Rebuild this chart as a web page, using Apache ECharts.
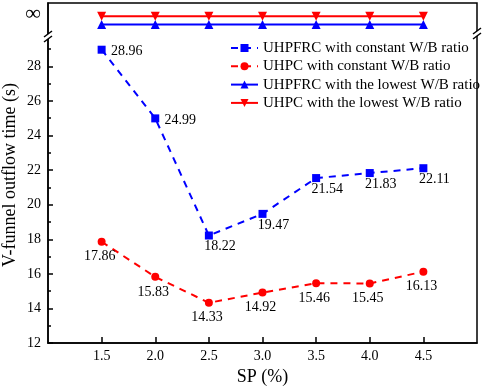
<!DOCTYPE html>
<html>
<head>
<meta charset="utf-8">
<script src="https://cdn.jsdelivr.net/npm/echarts@6/dist/echarts.min.js"></script>
<style>
  html, body { margin: 0; padding: 0; background: #fff; }
  #chart { width: 484px; height: 391px; }
</style>
</head>
<body>
<div id="chart"></div>
<script>
// SP dosage (%)
const spValues = [1.5, 2.0, 2.5, 3.0, 3.5, 4.0, 4.5];
// V-funnel outflow time (s)
const uhpfrcConstant = [28.96, 24.99, 18.22, 19.47, 21.54, 21.83, 22.11];
const uhpcConstant = [17.86, 15.83, 14.33, 14.92, 15.46, 15.45, 16.13];
// no flow (infinite time) -> drawn in the band above the axis break
const uhpfrcLowest = [30.41, 30.41, 30.41, 30.41, 30.41, 30.41, 30.41];
const uhpcLowest = [30.89, 30.89, 30.89, 30.89, 30.89, 30.89, 30.89];

const yTicks = [12, 14, 16, 18, 20, 22, 24, 26, 28];
const yMinorTicks = [13, 15, 17, 19, 21, 23, 25, 27, 29];
const infValue = 31;
const xTicks = [1.5, 2.0, 2.5, 3.0, 3.5, 4.0, 4.5];

const font = "Liberation Serif";

function pairs(ys) {
  return spValues.map((x, i) => [x, ys[i]]);
}

let myChart = echarts.init(document.getElementById("chart"));
myChart.setOption({
  animation: false,
  textStyle: { fontFamily: font },
  grid: {
    left: 48,
    right: 7,
    top: 3,
    bottom: 42,
    show: true,
    borderColor: "#000",
    borderWidth: 1.5,
  },
  legend: {
    orient: "vertical",
    left: 230,
    top: 40,
    padding: 0,
    itemWidth: 27,
    itemHeight: 10,
    itemGap: 2.3,
    textStyle: { fontFamily: font, fontSize: 15, color: "#000", lineHeight: 16 },
    data: [
      "UHPFRC with constant W/B ratio",
      "UHPC with constant W/B ratio",
      "UHPFRC with the lowest W/B ratio",
      "UHPC with the lowest W/B ratio",
    ],
  },
  xAxis: {
    type: "value",
    min: 1,
    max: 5,
    interval: 0.5,
    name: "SP (%)",
    nameLocation: "middle",
    nameGap: 22,
    nameTextStyle: { fontFamily: font, fontSize: 18, color: "#000" },
    axisLine: { lineStyle: { color: "#000", width: 1.5 } },
    axisTick: { inside: true, length: 6, customValues: xTicks, lineStyle: { color: "#000", width: 1.5 } },
    axisLabel: {
      customValues: xTicks,
      margin: 6,
      fontFamily: font,
      fontSize: 14,
      color: "#000",
      formatter: (v) => v.toFixed(1),
    },
    splitLine: { show: false },
  },
  yAxis: [
    {
      type: "value",
      min: 12,
      max: 31.66,
      axisLine: { lineStyle: { color: "#000", width: 1.5 } },
      axisTick: { inside: true, length: 5, customValues: yTicks, lineStyle: { color: "#000", width: 1.5 } },
      axisLabel: {
        customValues: yTicks.concat([infValue]),
        margin: 7,
        fontFamily: font,
        fontSize: 14,
        color: "#000",
        formatter: (v) => (v === infValue ? "{inf|∞}" : String(v)),
        rich: { inf: { fontFamily: font, fontSize: 22, color: "#000" } },
      },
      splitLine: { show: false },
    },
    {
      // minor ticks only
      type: "value",
      min: 12,
      max: 31.66,
      position: "left",
      axisLine: { show: false },
      axisTick: { inside: true, length: 3, customValues: yMinorTicks, lineStyle: { color: "#000", width: 1.5 } },
      axisLabel: { show: false },
      splitLine: { show: false },
    },
  ],
  graphic: [
    {
      type: "text",
      x: 10,
      y: 175,
      rotation: Math.PI / 2,
      style: {
        text: "V-funnel outflow time (s)",
        fontFamily: font,
        fontSize: 18,
        fill: "#000",
        align: "center",
        verticalAlign: "middle",
      },
    },
    // axis break marks
    { type: "rect", shape: { x: 45, y: 34, width: 7, height: 5 }, style: { fill: "#fff" }, z: 100 },
    { type: "line", shape: { x1: 44, y1: 37, x2: 52, y2: 31 }, style: { stroke: "#000", lineWidth: 1.5 }, z: 101 },
    { type: "line", shape: { x1: 44, y1: 42, x2: 52, y2: 36 }, style: { stroke: "#000", lineWidth: 1.5 }, z: 101 },
    { type: "rect", shape: { x: 474, y: 31, width: 7, height: 5 }, style: { fill: "#fff" }, z: 100 },
    { type: "line", shape: { x1: 473, y1: 34, x2: 481, y2: 28 }, style: { stroke: "#000", lineWidth: 1.5 }, z: 101 },
    { type: "line", shape: { x1: 473, y1: 39, x2: 481, y2: 33 }, style: { stroke: "#000", lineWidth: 1.5 }, z: 101 },
  ],
  series: [
    {
      name: "UHPFRC with constant W/B ratio",
      type: "line",
      // the two high values at the left carry their labels on the right side
      data: pairs(uhpfrcConstant).map((d, i) =>
        i < 2 ? { value: d, label: { offset: [25, 2] } } : d
      ),
      symbol: "rect",
      symbolSize: 8,
      color: "#0000ff",
      lineStyle: { type: [7, 6], width: 2 },
      label: {
        show: true,
        position: "inside",
        offset: [11, 11],
        fontFamily: font,
        fontSize: 14,
        color: "#000",
        formatter: (p) => p.value[1].toFixed(2),
      },
      emphasis: { disabled: true },
    },
    {
      name: "UHPC with constant W/B ratio",
      type: "line",
      data: pairs(uhpcConstant),
      symbol: "circle",
      symbolSize: 8,
      color: "#ff0000",
      lineStyle: { type: [7, 6], width: 2 },
      label: {
        show: true,
        position: "inside",
        offset: [-2, 15],
        fontFamily: font,
        fontSize: 14,
        color: "#000",
        formatter: (p) => p.value[1].toFixed(2),
      },
      emphasis: { disabled: true },
    },
    {
      name: "UHPFRC with the lowest W/B ratio",
      type: "line",
      data: pairs(uhpfrcLowest),
      symbol: "triangle",
      symbolSize: 9,
      color: "#0000ff",
      lineStyle: { width: 2 },
      emphasis: { disabled: true },
    },
    {
      name: "UHPC with the lowest W/B ratio",
      type: "line",
      data: pairs(uhpcLowest),
      symbol: "triangle",
      symbolRotate: 180,
      symbolSize: 9,
      color: "#ff0000",
      lineStyle: { width: 2 },
      emphasis: { disabled: true },
    },
  ],
});
</script>
</body>
</html>
